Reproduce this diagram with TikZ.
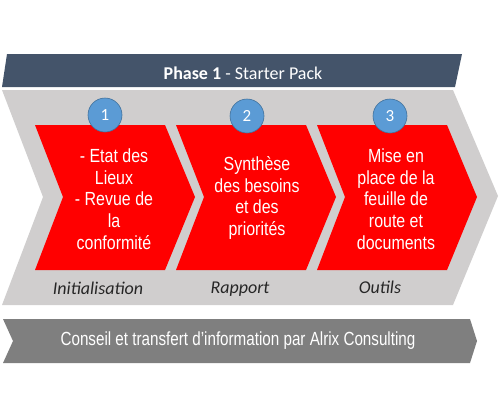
\documentclass[tikz,border=0pt]{standalone}
\usepackage{fontspec}
\setmainfont{Carlito}
\newfontfamily\narrowfont[FakeStretch=0.8]{Liberation Sans}
\newfontfamily\stepfont[FakeStretch=0.84]{Liberation Sans}
\usetikzlibrary{positioning}

\definecolor{bandblue}{HTML}{44546A}
\definecolor{lightband}{HTML}{D0CECE}
\definecolor{stepred}{HTML}{FF0000}
\definecolor{numblue}{HTML}{5B9BD5}
\definecolor{numedge}{HTML}{41719C}
\definecolor{lowband}{HTML}{7F7F7F}

\tikzset{
  steptext/.style={text=white, align=center, font=\stepfont\fontsize{19}{21.7}\selectfont},
  numdot/.style={circle, fill=numblue, draw=numedge, line width=0.6pt, minimum size=34pt, inner sep=0pt, text=white, font=\fontsize{17}{17}\selectfont},
  steplabel/.style={anchor=base, font=\itshape\fontsize{18}{20}\selectfont, text=black!85},
}

\begin{document}
\begin{tikzpicture}[x=1pt, y=-1pt]
  \useasboundingbox (0,0) rectangle (500,416);

  % phase header
  \fill[bandblue] (7,54) -- (462,54) -- (455,87) -- (2,87) -- cycle;
  \node[anchor=base, text=white, font=\fontsize{18}{20}\selectfont] (phase) at (243,79)
    {\textbf{Phase 1} - Starter Pack};

  % big grey arrow
  \fill[lightband] (2,90) -- (453,90) -- (498,196) -- (453,305) -- (2,305) -- (43,197) -- cycle;

  % red steps
  \foreach \x in {35,176,317}
    \fill[stepred] (\x,125) -- ++(130,0) -- ++(30,72) -- ++(-30,73) -- ++(-130,0) -- ++(28,-73) -- cycle;

  \node[steptext] (etat) at (114,199) {- Etat des\\Lieux\\- Revue de\\la\\conformité};
  \node[steptext] (synth) at (257,198) {Synthèse\\des besoins\\et des\\priorités};
  \node[steptext] (mise) at (396,199) {Mise en\\place de la\\feuille de\\route et\\documents};

  \node[numdot] (one) at (105,115) {1};
  \node[numdot] (two) at (247,116) {2};
  \node[numdot] (three) at (390,116) {3};

  \node[steplabel] (init) at (98,294) {Initialisation};
  \node[steplabel] (rapport) at (240,293) {Rapport};
  \node[steplabel] (outils) at (380,293) {Outils};

  % bottom band
  \fill[lowband] (3,319) -- (470,319) -- (477,341) -- (470,363) -- (3,363) -- (13,341) -- cycle;
  \node[text=white, font=\narrowfont\fontsize{19}{20}\selectfont] (conseil) at (238,341)
    {Conseil et transfert d’information par Alrix Consulting};
\end{tikzpicture}
\end{document}
